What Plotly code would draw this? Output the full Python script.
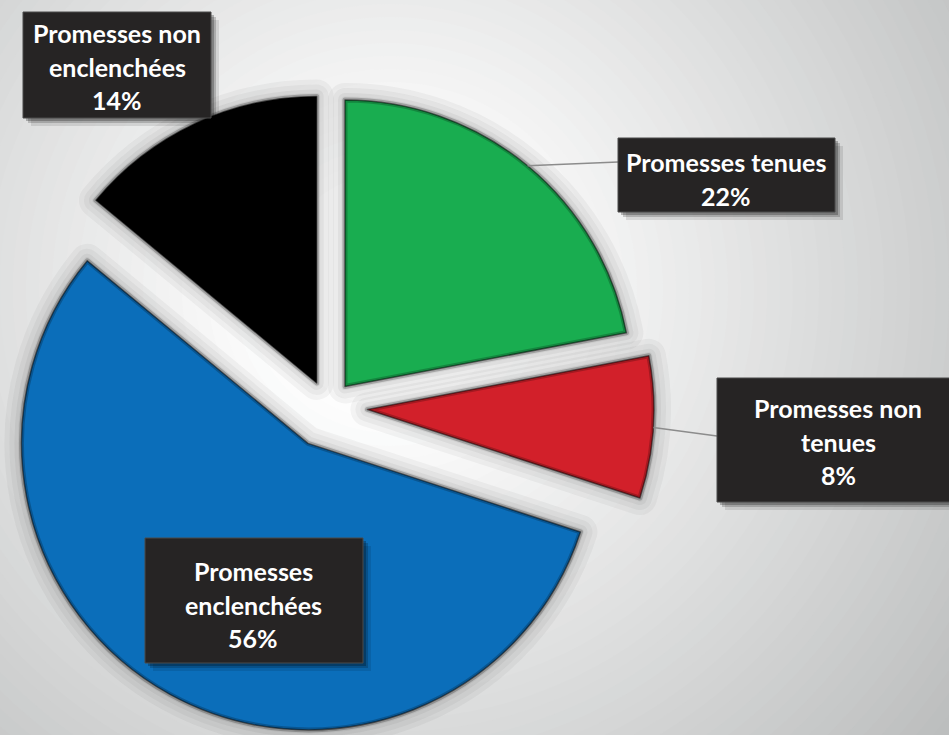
import numpy as np
import plotly.graph_objects as go

W, H = 949, 735

# ---- data -------------------------------------------------------------
labels = ["Promesses tenues", "Promesses non tenues",
          "Promesses enclenchées", "Promesses non enclenchées"]
values = [22, 8, 56, 14]
label_lines = [["Promesses tenues"],
               ["Promesses non", "tenues"],
               ["Promesses", "enclenchées"],
               ["Promesses non", "enclenchées"]]

# ---- styles -----------------------------------------------------------
colors = ["#19AD50", "#D2202A", "#0B6EBA", "#000000"]
pulls = [0.093, 0.138, 0.145, 0.093]

# pie box (pixels)
CX, CY, HALF = 328, 407, 328

# label boxes (pixels): x0, y0, x1, y1 ; text centre x ; first line y ; leader end
boxes = [(618, 138, 835, 212), (717, 378, 960, 502),
         (145, 538, 363, 663), (23, 12, 211, 118)]
text_x = [726, 838, 253, 117]
text_y0 = [162, 408, 571, 33]
line_step = 33.5
leader_end = [(618, 162), (717, 436), None, None]

FONT = "Lato"


def px(x):
    return x / W


def py(y):
    return 1 - y / H


dom_x = [max(0.0, px(CX - HALF)), min(1.0, px(CX + HALF))]
dom_y = [max(0.0, py(CY + HALF)), min(1.0, py(CY - HALF))]
R = HALF / (1 + max(pulls))

fig = go.Figure()

common = dict(labels=labels, values=values, sort=False, direction="clockwise",
              rotation=0, textinfo="none", hoverinfo="skip", showlegend=False,
              pull=pulls, domain=dict(x=dom_x, y=dom_y))

# soft shadow halo around the slices
for w, a in [(34, 0.05), (24, 0.05), (14, 0.06), (7, 0.07)]:
    fig.add_trace(go.Pie(**common,
                         marker=dict(colors=["rgba(0,0,0,0)"] * len(values),
                                     line=dict(color=f"rgba(50,50,50,{a})", width=w))))

# the slices themselves
fig.add_trace(go.Pie(**common, marker=dict(colors=colors, line=dict(width=0))))

# bevel: darker edge around each slice
fig.add_trace(go.Pie(**common,
                     marker=dict(colors=["rgba(0,0,0,0)"] * len(values),
                                 line=dict(color="rgba(0,0,0,0.22)", width=5))))
fig.add_trace(go.Pie(**common,
                     marker=dict(colors=["rgba(0,0,0,0)"] * len(values),
                                 line=dict(color="rgba(0,0,0,0.5)", width=1.5))))

shapes = []

# radial background
GX, GY, GR = 390, 290, 780
steps = 60
for k in range(steps):
    rad = GR * (1 - k / steps)
    t = min(1.0, max(0.0, (rad - 120) / (GR - 120)))
    c = 255 - 72 * t
    col = f"rgb({int(c - 2 * t)},{int(c)},{int(c)})"
    shapes.append(dict(type="circle", xref="paper", yref="paper", layer="below",
                       x0=px(GX - rad), x1=px(GX + rad), y0=py(GY + rad), y1=py(GY - rad),
                       fillcolor=col, line=dict(width=0)))

# leader lines from the outer mid-point of each slice
total = sum(values)
start = 0.0
for i, v in enumerate(values):
    mid = np.deg2rad((start + v / 2) / total * 360)
    start += v
    if leader_end[i] is None:
        continue
    sx = CX + (1 + pulls[i]) * R * np.sin(mid)
    sy = CY - (1 + pulls[i]) * R * np.cos(mid)
    ex, ey = leader_end[i]
    shapes.append(dict(type="line", xref="paper", yref="paper", layer="above",
                       x0=px(sx), y0=py(sy), x1=px(ex), y1=py(ey),
                       line=dict(color="#8c8c8c", width=1.6)))

# label boxes with drop shadow
annotations = []
for i, (x0, y0, x1, y1) in enumerate(boxes):
    for off, a in [(8, 0.10), (5, 0.18), (3, 0.25)]:
        shapes.append(dict(type="rect", xref="paper", yref="paper", layer="above",
                           x0=px(x0 + off), x1=px(x1 + off), y0=py(y1 + off), y1=py(y0 + off),
                           fillcolor=f"rgba(0,0,0,{a})", line=dict(width=0)))
    shapes.append(dict(type="rect", xref="paper", yref="paper", layer="above",
                       x0=px(x0), x1=px(x1), y0=py(y1), y1=py(y0),
                       fillcolor="#262424", line=dict(color="#4a4a4a", width=1)))
    lines = label_lines[i] + [f"{values[i]}%"]
    for j, s in enumerate(lines):
        annotations.append(dict(x=px(text_x[i]), y=py(text_y0[i] + j * line_step),
                                xref="paper", yref="paper", text=s, showarrow=False,
                                xanchor="center", yanchor="middle",
                                font=dict(family=FONT, size=25, color="white", weight="bold")))

fig.update_layout(width=W, height=H, margin=dict(l=0, r=0, t=0, b=0),
                  paper_bgcolor="#bcbcbc", plot_bgcolor="#bcbcbc",
                  shapes=shapes, annotations=annotations)

fig.write_html("out.html", config=dict(displayModeBar=False))
